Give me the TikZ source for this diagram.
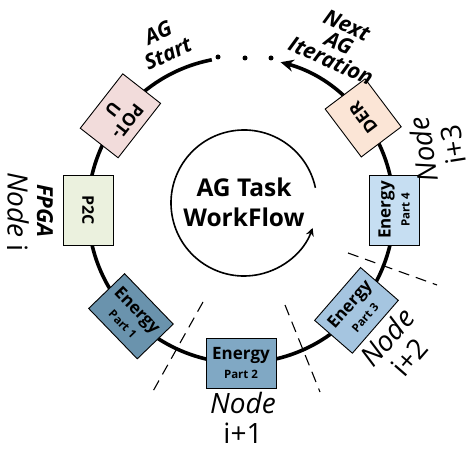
\documentclass[tikz,border=0pt]{standalone}
\usepackage{fontspec}
\setmainfont{Open Sans}
\usetikzlibrary{calc,arrows.meta}
\definecolor{cpotu}{HTML}{F2DCDB}
\definecolor{cptwoc}{HTML}{EBF1DE}
\definecolor{ceone}{HTML}{6A93AD}
\definecolor{cetwo}{HTML}{80A8C4}
\definecolor{cethree}{HTML}{A5C5E0}
\definecolor{cefour}{HTML}{C6DEF2}
\definecolor{cder}{HTML}{FBE5D6}
\newcommand{\partsz}{\fontsize{11.5}{13}\selectfont}
\begin{document}
\begin{tikzpicture}[x=1pt,y=1pt,
  stagebox/.style={draw=black, line width=0.9pt, minimum width=70pt, minimum height=50pt,
    inner sep=1pt, align=center, font=\bfseries\fontsize{17}{18}\selectfont},
  bigring/.style={line width=3.6pt, -{Stealth[length=13pt,width=12pt]}},
  smallring/.style={line width=1.6pt, -{Stealth[length=8pt,width=8pt]}},
  divider/.style={line width=1.1pt, dash pattern=on 11pt off 7pt},
  flowlbl/.style={align=center, inner sep=0pt},
  nodelbl/.style={font=\fontsize{28}{30}\selectfont, align=center, inner sep=0pt},
  dotmark/.style={circle, fill=black, inner sep=0pt, minimum size=5pt}
]
\useasboundingbox (0,0) rectangle (470,449);
\coordinate (C) at (241,239);
\coordinate (I) at (244,246);

% big ring
\draw[bigring] ($(C)+(101:153)$) arc[start angle=101, end angle=435, radius=153];
\node[dotmark] (dot1) at (218,392) {};
\node[dotmark] (dot2) at (245,391) {};
\node[dotmark] (dot3) at (271,391) {};

% inner ring
\draw[smallring] ($(I)+(12:73)$) arc[start angle=12, end angle=340, radius=73];
\node[font=\bfseries\fontsize{24.5}{30}\selectfont, align=center] (title) at (244,247) {AG Task\\WorkFlow};

% dividers
\coordinate (d1a) at (203,147); \coordinate (d1b) at (152,56);
\coordinate (d2a) at (285,144); \coordinate (d2b) at (320,57);
\coordinate (d3a) at (348,196); \coordinate (d3b) at (437,164);
\draw[divider] (d1a) -- (d1b);
\draw[divider] (d2a) -- (d2b);
\draw[divider] (d3a) -- (d3b);

% stage boxes
\node[stagebox, fill=cpotu, minimum width=69pt, minimum height=48pt, rotate=232, font=\bfseries\fontsize{17.5}{19}\selectfont] (potu) at ($(C)+(142:153)$) {POT-\\U};
\node[stagebox, fill=cptwoc, rotate=270, font=\bfseries\fontsize{16}{18}\selectfont] (ptwoc) at ($(C)+(180:153)$) {P2C};
\node[stagebox, fill=ceone, rotate=314] (eone) at ($(C)+(224:153)$) {Energy\\[1pt]{\partsz Part 1}};
\node[stagebox, fill=cetwo, rotate=0] (etwo) at ($(C)+(270:153)$) {Energy\\[1pt]{\partsz Part 2}};
\node[stagebox, fill=cethree, rotate=49] (ethree) at ($(C)+(319:153)$) {Energy\\[1pt]{\partsz Part 3}};
\node[stagebox, fill=cefour, rotate=90] (efour) at ($(C)+(0:153)$) {Energy\\[1pt]{\partsz Part 4}};
\node[stagebox, fill=cder, minimum width=60pt, rotate=127, font=\bfseries\fontsize{17.5}{19}\selectfont] (der) at ($(C)+(37:153)$) {DER};

% labels
\node[flowlbl, rotate=25, font=\bfseries\itshape\fontsize{21}{23}\selectfont] (agstart) at (163,406) {AG\\Start};
\node[flowlbl, rotate=-24, font=\bfseries\itshape\fontsize{21.5}{19.5}\selectfont] (nextag) at (339,406) {Next\\AG\\Iteration};
\node[flowlbl, rotate=270, font=\bfseries\itshape\fontsize{22}{24}\selectfont] (fpga) at (45,238) {FPGA};
\node[nodelbl, rotate=270] (nodei) at (18,237) {\textit{Node} i};
\node[nodelbl] (nodeione) at (243,31) {\textit{Node}\\i+1};
\node[nodelbl, rotate=49] (nodeitwo) at (398,102) {\textit{Node}\\i+2};
\node[nodelbl, rotate=99] (nodeithree) at (438,302) {\textit{Node}\\i+3};
\end{tikzpicture}
\end{document}
